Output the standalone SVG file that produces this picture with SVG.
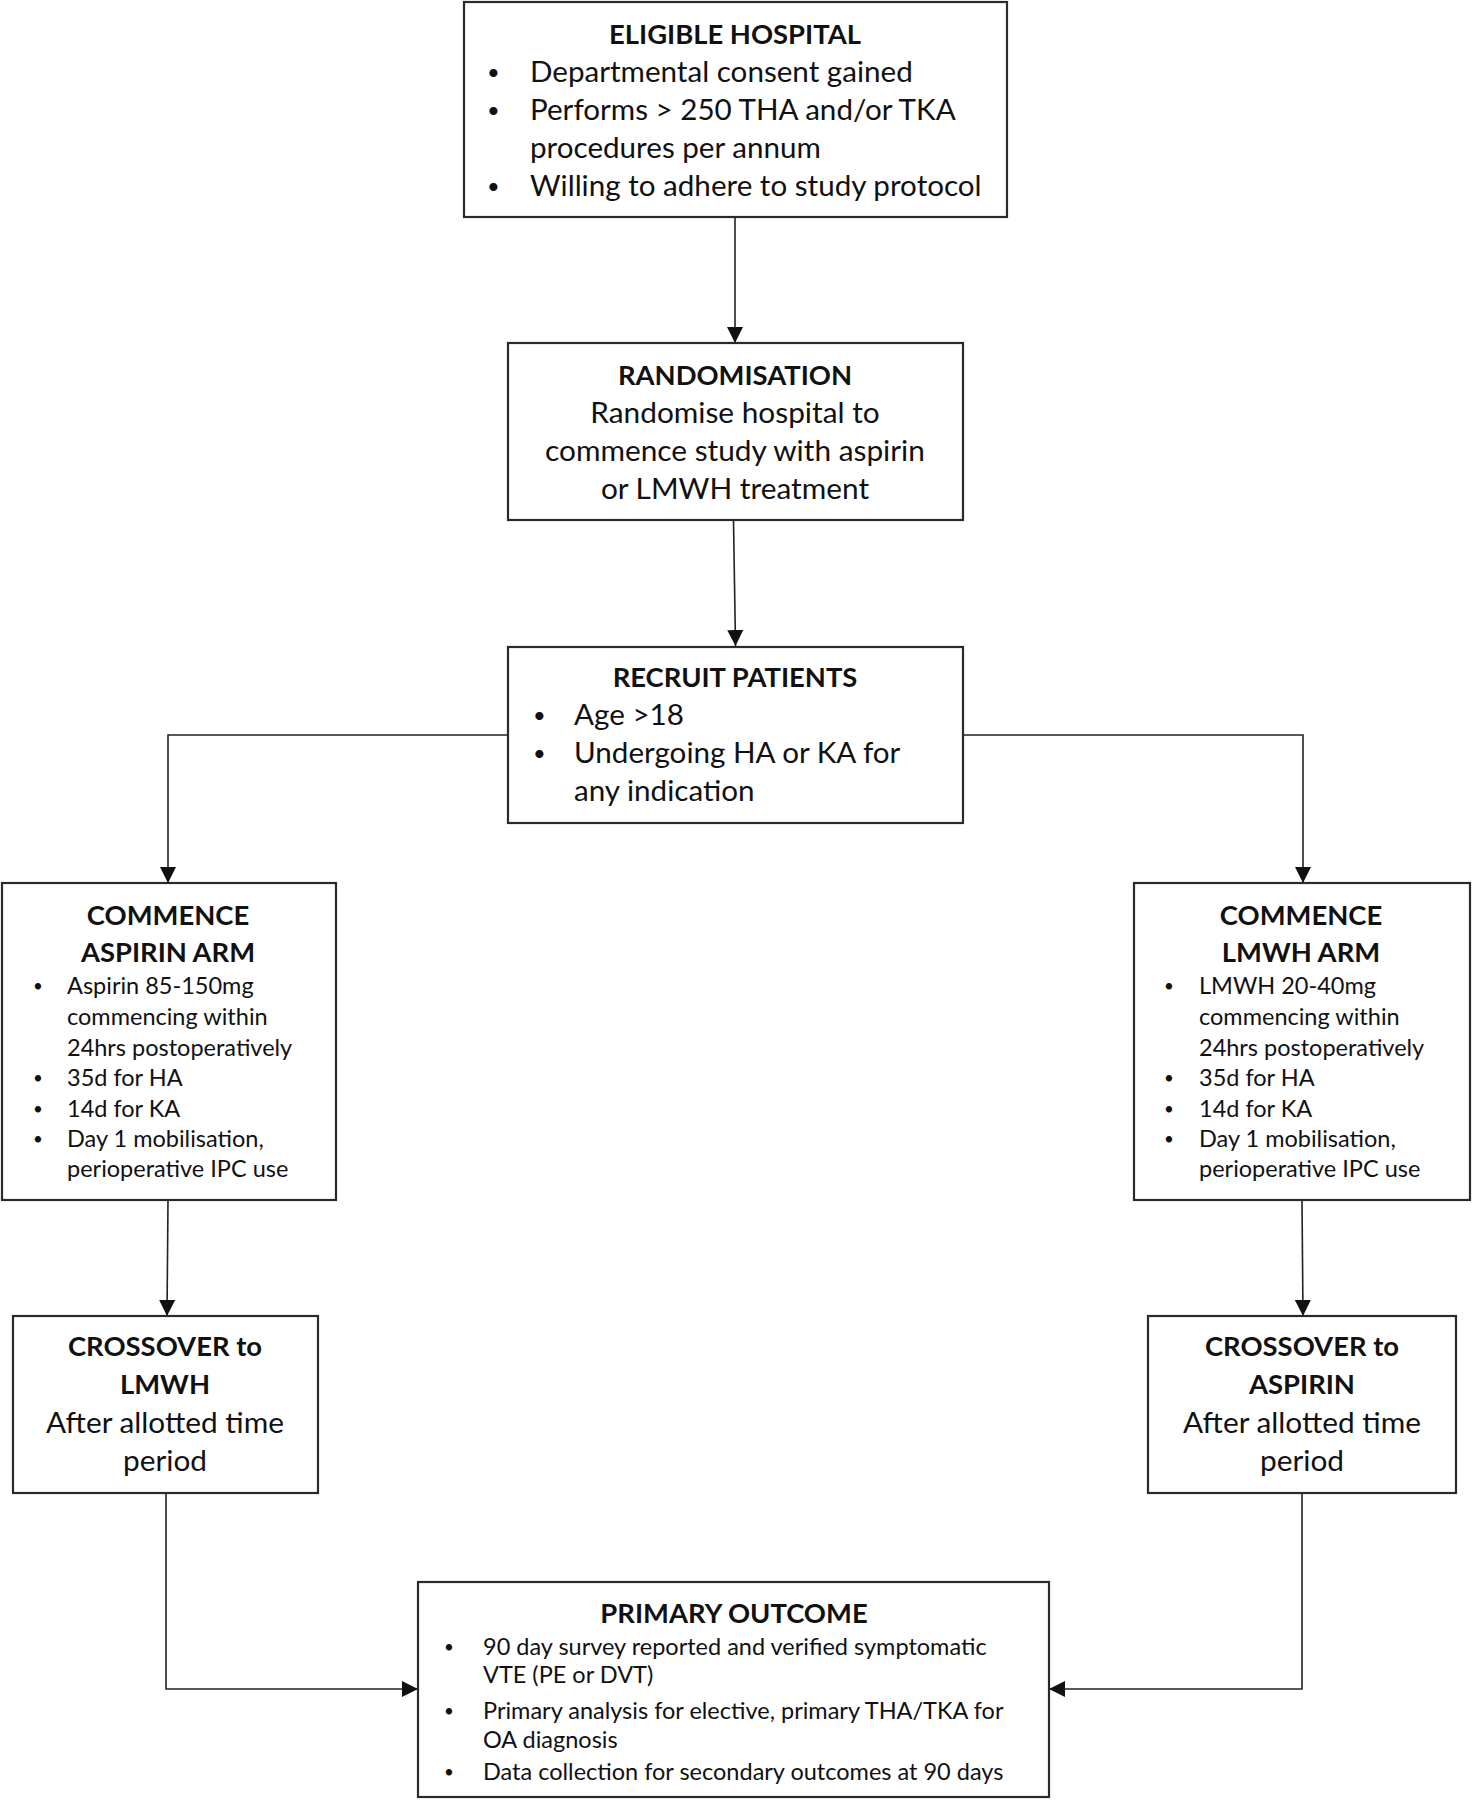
<svg xmlns="http://www.w3.org/2000/svg" width="1472" height="1800" viewBox="0 0 1472 1800">
<style>
.box{fill:#fff;stroke:#2a2a2a;stroke-width:2.2}
.t{font-family:Lato,"Open Sans","Liberation Sans",sans-serif;fill:#111}
.h{font-weight:bold;font-size:27.4px;text-anchor:middle}
.b{font-size:29.6px}
.c{font-size:29.8px;text-anchor:middle}
.s{font-size:23.5px}
.sh{font-weight:bold;font-size:27.4px;text-anchor:middle}
.bb{font-size:22px}
.sb{font-size:17px}
.ln{fill:none;stroke:#222;stroke-width:1.6}
</style>
<defs>
<marker id="ah2" viewBox="0 0 16 16" refX="16" refY="8" markerWidth="16" markerHeight="16" markerUnits="userSpaceOnUse" orient="auto">
<path d="M0,0 L16,8 L0,16 z" fill="#111"/>
</marker>
</defs>
<rect width="1472" height="1800" fill="#fff"/>
<g id="connectors">
<path class="ln" d="M735,217 V343" marker-end="url(#ah2)"/>
<path class="ln" d="M733.5,520 L735.5,646" marker-end="url(#ah2)"/>
<path class="ln" d="M507,735 H168 V883" marker-end="url(#ah2)"/>
<path class="ln" d="M963,735 H1303 V883" marker-end="url(#ah2)"/>
<path class="ln" d="M168,1201 L167,1316" marker-end="url(#ah2)"/>
<path class="ln" d="M1302,1201 L1303,1316" marker-end="url(#ah2)"/>
<path class="ln" d="M166,1493 V1689 H418" marker-end="url(#ah2)"/>
<path class="ln" d="M1302,1493 V1689 H1049" marker-end="url(#ah2)"/>
</g>
<g id="eligible">
<rect class="box" x="464" y="2" width="543" height="215"/>
<text class="t h" x="735" y="44">ELIGIBLE HOSPITAL</text>
<text class="t bb" x="487" y="80">•</text><text class="t b" x="530" y="82">Departmental consent gained</text>
<text class="t bb" x="487" y="118">•</text><text class="t b" x="530" y="120">Performs &gt; 250 THA and/or TKA</text>
<text class="t b" x="530" y="158">procedures per annum</text>
<text class="t bb" x="487" y="194">•</text><text class="t b" x="530" y="196">Willing to adhere to study protocol</text>
</g>
<g id="randomisation">
<rect class="box" x="508" y="343" width="455" height="177"/>
<text class="t h" x="735" y="385">RANDOMISATION</text>
<text class="t c" x="735" y="423">Randomise hospital to</text>
<text class="t c" x="735" y="461">commence study with aspirin</text>
<text class="t c" x="735" y="499">or LMWH treatment</text>
</g>
<g id="recruit">
<rect class="box" x="508" y="647" width="455" height="176"/>
<text class="t h" x="735" y="687">RECRUIT PATIENTS</text>
<text class="t bb" x="533" y="723">•</text><text class="t b" x="574" y="725">Age &gt;18</text>
<text class="t bb" x="533" y="761">•</text><text class="t b" x="574" y="763">Undergoing HA or KA for</text>
<text class="t b" x="574" y="801">any indication</text>
</g>
<g id="aspirin-arm">
<rect class="box" x="2" y="883" width="334" height="317"/>
<text class="t sh" x="168" y="925">COMMENCE</text>
<text class="t sh" x="168" y="962">ASPIRIN ARM</text>
<text class="t sb" x="33" y="992">•</text><text class="t s" x="67" y="994">Aspirin 85-150mg</text>
<text class="t s" x="67" y="1025">commencing within</text>
<text class="t s" x="67" y="1056">24hrs postoperatively</text>
<text class="t sb" x="33" y="1084">•</text><text class="t s" x="67" y="1086">35d for HA</text>
<text class="t sb" x="33" y="1115">•</text><text class="t s" x="67" y="1117">14d for KA</text>
<text class="t sb" x="33" y="1145">•</text><text class="t s" x="67" y="1147">Day 1 mobilisation,</text>
<text class="t s" x="67" y="1177">perioperative IPC use</text>
</g>
<g id="lmwh-arm">
<rect class="box" x="1134" y="883" width="336" height="317"/>
<text class="t sh" x="1301" y="925">COMMENCE</text>
<text class="t sh" x="1301" y="962">LMWH ARM</text>
<text class="t sb" x="1164" y="992">•</text><text class="t s" x="1199" y="994">LMWH 20-40mg</text>
<text class="t s" x="1199" y="1025">commencing within</text>
<text class="t s" x="1199" y="1056">24hrs postoperatively</text>
<text class="t sb" x="1164" y="1084">•</text><text class="t s" x="1199" y="1086">35d for HA</text>
<text class="t sb" x="1164" y="1115">•</text><text class="t s" x="1199" y="1117">14d for KA</text>
<text class="t sb" x="1164" y="1145">•</text><text class="t s" x="1199" y="1147">Day 1 mobilisation,</text>
<text class="t s" x="1199" y="1177">perioperative IPC use</text>
</g>
<g id="crossover-lmwh">
<rect class="box" x="13" y="1316" width="305" height="177"/>
<text class="t sh" x="165" y="1356">CROSSOVER to</text>
<text class="t sh" x="165" y="1394">LMWH</text>
<text class="t c" x="165" y="1433">After allotted time</text>
<text class="t c" x="165" y="1471">period</text>
</g>
<g id="crossover-aspirin">
<rect class="box" x="1148" y="1316" width="308" height="177"/>
<text class="t sh" x="1302" y="1356">CROSSOVER to</text>
<text class="t sh" x="1302" y="1394">ASPIRIN</text>
<text class="t c" x="1302" y="1433">After allotted time</text>
<text class="t c" x="1302" y="1471">period</text>
</g>
<g id="primary-outcome">
<rect class="box" x="418" y="1582" width="631" height="215"/>
<text class="t h" x="734" y="1623">PRIMARY OUTCOME</text>
<text class="t sb" x="444" y="1653">•</text><text class="t s" x="483" y="1655">90 day survey reported and verified symptomatic</text>
<text class="t s" x="483" y="1683">VTE (PE or DVT)</text>
<text class="t sb" x="444" y="1717">•</text><text class="t s" x="483" y="1719">Primary analysis for elective, primary THA/TKA for</text>
<text class="t s" x="483" y="1748">OA diagnosis</text>
<text class="t sb" x="444" y="1778">•</text><text class="t s" x="483" y="1780">Data collection for secondary outcomes at 90 days</text>
</g>
</svg>
